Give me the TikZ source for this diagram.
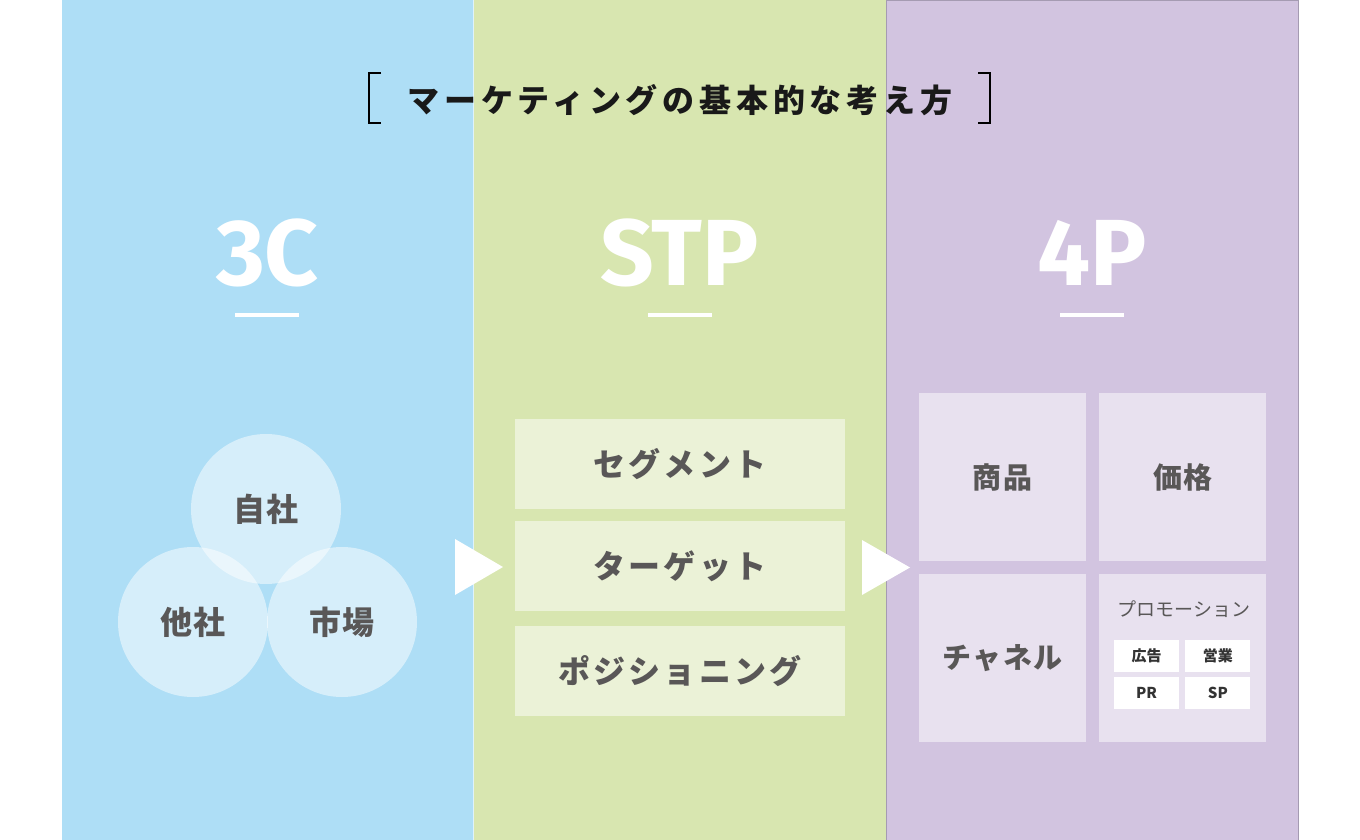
\documentclass[tikz,border=0pt]{standalone}
\usepackage{fontspec}
\setmainfont{Noto Sans CJK JP}
\newfontfamily\jpfont{Noto Sans CJK JP}[LetterSpace=10]
\newfontfamily\jpnarrow{Noto Sans CJK JP}[LetterSpace=5]
\newfontfamily\titlefont{Noto Sans CJK JP}[LetterSpace=15]
\newfontfamily\headfont{Fira Sans}
\usepackage{tikz}
\usetikzlibrary{positioning}

\definecolor{colblue}{HTML}{AEDEF6}
\definecolor{colgreen}{HTML}{D8E6B0}
\definecolor{colpurple}{HTML}{D2C4E0}
\definecolor{labelgray}{HTML}{595757}
\definecolor{edgegray}{HTML}{A59BB2}

\begin{document}
\begin{tikzpicture}[
    x=1pt, y=-1pt,
    heading/.style={font=\headfont\bfseries\fontsize{94}{94}\selectfont, text=white, anchor=base, inner sep=0pt},
    headline/.style={white, line width=4pt},
    bracket/.style={black, line width=2.2pt},
    circ/.style={circle, fill=white, fill opacity=0.5, text opacity=1, minimum size=150pt, inner sep=0pt, text=labelgray, font=\jpnarrow\bfseries\fontsize{32}{38}\selectfont},
    stpbox/.style={rectangle, fill=white, fill opacity=0.5, text opacity=1, minimum width=330pt, minimum height=90pt, inner sep=0pt, text=labelgray, font=\jpfont\bfseries\fontsize{32}{38}\selectfont},
    pbox/.style={rectangle, fill=white, fill opacity=0.5, text opacity=1, minimum width=167pt, minimum height=168pt, inner sep=0pt, text=labelgray, font=\jpnarrow\bfseries\fontsize{29}{34}\selectfont},
    tagbox/.style={rectangle, fill=white, minimum width=65pt, minimum height=32pt, inner sep=0pt, text=black!80, font=\bfseries\fontsize{15}{18}\selectfont},
    flow/.style={fill=white},
]
\useasboundingbox (0,0) rectangle (1360,840);

% Columns
\fill[colblue] (62,0) rectangle (473,840);
\fill[colgreen] (473,0) rectangle (886,840);
\filldraw[fill=colpurple, draw=edgegray, line width=0.8pt] (886,0.5) rectangle (1298,840);
\draw[white!60!colblue, line width=1pt] (473,0) -- (473,840);

% Title
\node[font=\titlefont\bfseries\fontsize{32}{38}\selectfont, text=black!90] (title) at (680,100) {マーケティングの基本的な考え方};
\draw[bracket] (381,73) -| (369,123) -- (381,123);
\draw[bracket] (978,73) -| (990,123) -- (978,123);

% Headings
\node[heading] (h3c) at (267.5,285) {3C};
\node[heading] (hstp) at (679.5,285) {STP};
\node[heading] (h4p) at (1092,285) {4P};
\draw[headline] (235,315) -- (299,315);
\draw[headline] (648,315) -- (712,315);
\draw[headline] (1060,315) -- (1124,315);

% 3C circles
\node[circ] (own) at (266,509) {自社};
\node[circ] (rival) at (193,622) {他社};
\node[circ] (market) at (342,622) {市場};

% Flow arrows
\fill[flow] (455,539) -- (503,567) -- (455,595) -- cycle;
\fill[flow] (862,540) -- (910,567.5) -- (862,595) -- cycle;

% STP boxes
\node[stpbox] (segment) at (680,464) {セグメント};
\node[stpbox, below=12pt of segment] (target) {ターゲット};
\node[stpbox, below=14pt of target] (position) {ポジショニング};

% 4P boxes
\node[pbox] (product) at (1002.5,477) {商品};
\node[pbox, right=13pt of product] (price) {価格};
\node[pbox, below=13pt of product] (place) {チャネル};
\node[pbox, right=13pt of place] (promo) {};
\node[text=labelgray, font=\fontsize{19}{23}\selectfont] (promotitle) at (1184,609) {プロモーション};

% Promotion tags
\node[tagbox] (ads) at (1146.5,656) {広告};
\node[tagbox, right=6pt of ads] (sales) {営業};
\node[tagbox, below=5pt of ads] (pr) {PR};
\node[tagbox, right=6pt of pr] (sp) {SP};

\end{tikzpicture}
\end{document}
